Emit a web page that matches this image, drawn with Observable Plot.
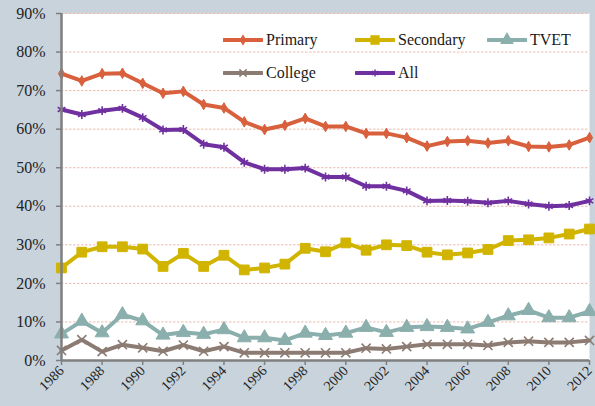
<!DOCTYPE html>
<html>
<head>
<meta charset="utf-8">
<script src="https://cdn.jsdelivr.net/npm/d3@7"></script>
<script src="https://cdn.jsdelivr.net/npm/@observablehq/plot@0.6"></script>
<style>
  html, body { margin: 0; padding: 0; background: #c8d3db; }
  #wrap { position: relative; width: 595px; height: 406px; font-family: "Liberation Serif", "DejaVu Serif", serif; }
  .leg { position: absolute; display: flex; align-items: center; height: 20px; font-size: 16px; color: #1a1a1a; }
  .leg svg { margin-right: 3px; }
</style>
</head>
<body>
<div id="wrap"></div>
<script>
const years = d3.range(1986, 2013);
const seriesNames = ["Primary", "Secondary", "TVET", "College", "All"];
const primary = [74.4,72.5,74.4,74.5,71.9,69.3,69.8,66.4,65.5,61.9,59.9,61.0,62.8,60.7,60.7,58.9,58.9,57.8,55.6,56.8,57.0,56.4,57.0,55.5,55.4,55.9,57.8];
const secondary = [24.0,28.1,29.5,29.5,28.9,24.4,27.8,24.4,27.3,23.5,24.0,25.0,29.1,28.2,30.5,28.6,30.0,29.8,28.1,27.4,27.9,28.8,31.1,31.3,31.8,32.8,34.1];
const tvet = [6.9,10.2,7.2,11.9,10.3,6.6,7.3,6.8,8.0,5.9,5.9,5.2,7.1,6.5,7.1,8.6,7.3,8.6,8.8,8.6,8.2,9.9,11.6,13.0,11.1,11.1,12.7];
const college = [2.6,5.4,2.3,4.1,3.3,2.4,4.0,2.4,3.6,2.0,2.0,2.0,2.0,2.0,2.0,3.2,3.0,3.6,4.2,4.2,4.2,3.9,4.7,5.0,4.7,4.7,5.2];
const all = [65.1,63.8,64.8,65.4,63.0,59.8,59.9,56.1,55.3,51.4,49.6,49.6,49.9,47.6,47.6,45.2,45.2,44.0,41.4,41.5,41.3,40.9,41.4,40.6,40.0,40.2,41.4];
const yTicks = [0,10,20,30,40,50,60,70,80,90];
const xTicks = d3.range(1986, 2013, 2);

const colors = {Primary: "#d8603c", Secondary: "#d0b400", TVET: "#8aafad", College: "#8c7b72", All: "#7030a0"};
const symbols = {Primary: "diamond", Secondary: "square", TVET: "triangle", College: "times", All: "asterisk"};
const radii = {Primary: 3.2, Secondary: 5.5, TVET: 5.2, College: 4.2, All: 4.2};
const filled = {Primary: true, Secondary: true, TVET: true, College: false, All: false};

const valuesBySeries = {Primary: primary, Secondary: secondary, TVET: tvet, College: college, All: all};
const data = [];
for (const s of seriesNames) {
  valuesBySeries[s].forEach((v, i) => data.push({series: s, year: years[i], value: v}));
}
const drawOrder = ["College", "TVET", "Secondary", "All", "Primary"];

const marks = [
  Plot.frame({fill: "white", stroke: "none"}),
  Plot.gridY({ticks: yTicks.filter(d => d > 0), stroke: "#f2b9aa", strokeOpacity: 1, strokeDasharray: "2.5,1.5", strokeWidth: 1})
];
for (const s of drawOrder) {
  const d = data.filter(r => r.series === s);
  marks.push(Plot.line(d, {x: "year", y: "value", stroke: colors[s], strokeWidth: 4, strokeLinejoin: "round"}));
  if (filled[s]) {
    marks.push(Plot.dot(d, {x: "year", y: "value", symbol: symbols[s], r: radii[s], fill: colors[s], stroke: colors[s], strokeWidth: 1}));
  } else {
    marks.push(Plot.dot(d, {x: "year", y: "value", symbol: symbols[s], r: radii[s], stroke: colors[s], strokeWidth: 1.6}));
  }
}
marks.push(
  Plot.axisY({ticks: yTicks, tickFormat: d => d + "%", tickSize: 5, tickPadding: 11, fontSize: 16, stroke: "#7f7f7f", strokeWidth: 1.5, fill: "#222", label: null}),
  Plot.axisX({ticks: xTicks, tickFormat: d => String(d), tickSize: 5, tickPadding: 3, tickRotate: -45, fontSize: 14, stroke: "#7f7f7f", strokeWidth: 1.5, fill: "#222", label: null}),
  Plot.ruleY([0], {stroke: "#7f7f7f", strokeWidth: 2.5}),
  Plot.ruleX([1986], {stroke: "#7f7f7f", strokeWidth: 2.5})
);

const chart = Plot.plot({
  width: 595,
  height: 406,
  marginLeft: 61,
  marginRight: 6,
  marginTop: 13,
  marginBottom: 46,
  style: {background: "#c8d3db", fontFamily: "Liberation Serif, DejaVu Serif, serif", color: "#222"},
  x: {domain: [1986, 2012]},
  y: {domain: [0, 90]},
  marks
});
const wrap = document.getElementById("wrap");
wrap.appendChild(chart);

// Legend (HTML overlay)
const legendLayout = [
  {s: "Primary", left: 223, top: 30},
  {s: "Secondary", left: 355, top: 30},
  {s: "TVET", left: 487, top: 30},
  {s: "College", left: 223, top: 63},
  {s: "All", left: 355, top: 63}
];
const d3sym = {Primary: d3.symbolDiamond, Secondary: d3.symbolSquare, TVET: d3.symbolTriangle, College: d3.symbolTimes, All: d3.symbolAsterisk};
for (const item of legendLayout) {
  const div = document.createElement("div");
  div.className = "leg";
  div.style.left = item.left + "px";
  div.style.top = item.top + "px";
  const svg = d3.create("svg").attr("width", 40).attr("height", 20);
  svg.append("line").attr("x1", 1).attr("x2", 39).attr("y1", 10).attr("y2", 10)
    .attr("stroke", colors[item.s]).attr("stroke-width", 4).attr("stroke-linecap", "round");
  const r = radii[item.s] * 0.8;
  svg.append("path").attr("transform", "translate(20,10)")
    .attr("d", d3.symbol(d3sym[item.s], Math.PI * r * r)())
    .attr("fill", filled[item.s] ? colors[item.s] : "none")
    .attr("stroke", colors[item.s]).attr("stroke-width", 1.5);
  div.appendChild(svg.node());
  const span = document.createElement("span");
  span.textContent = item.s;
  div.appendChild(span);
  wrap.appendChild(div);
}
</script>
</body>
</html>
